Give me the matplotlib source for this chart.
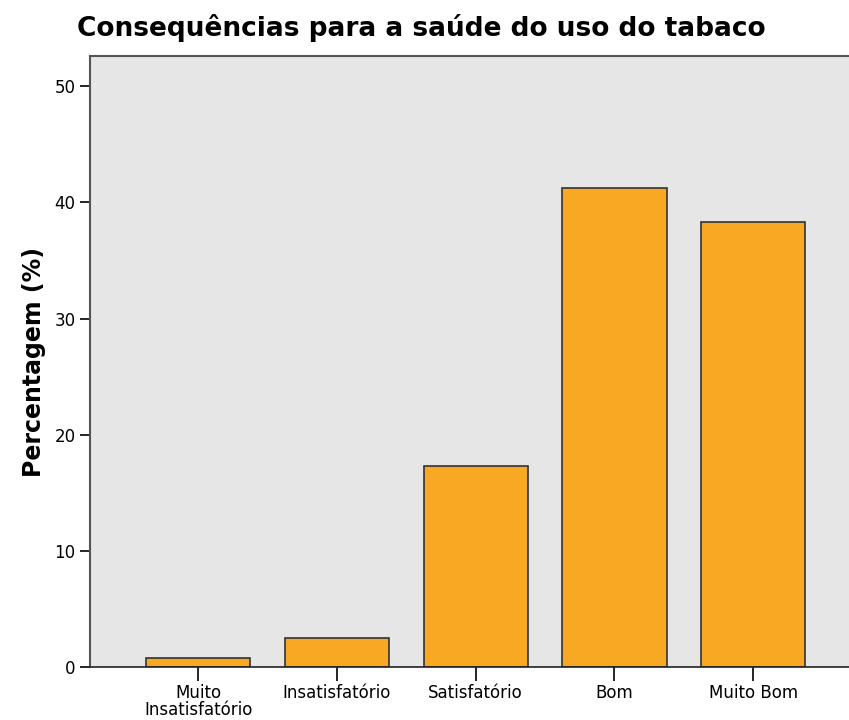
import numpy as np
import matplotlib.pyplot as plt

categorias = ['Muito\nInsatisfatório', 'Insatisfatório', 'Satisfatório', 'Bom', 'Muito Bom']
percentagens = [0.8, 2.5, 17.3, 41.2, 38.3]
yticks = [0, 10, 20, 30, 40, 50]


def main():
    fig = plt.figure(figsize=(8.49, 7.2), dpi=100)
    ax = fig.add_axes([0.106, 0.0736, 0.894, 0.8486])
    ax.set_facecolor('#e6e6e6')
    x = np.arange(len(categorias))
    ax.bar(x, percentagens, width=0.75, color='#f8a823', edgecolor='#333333', linewidth=1.2, zorder=2)
    ax.set_xlim(-0.78, 4.69)
    ax.set_ylim(0, 52.6)
    ax.set_xticks(x)
    ax.set_xticklabels(categorias, fontsize=12, linespacing=0.95)
    ax.set_yticks(yticks)
    ax.tick_params(axis='y', labelsize=12, length=7, width=1.2)
    ax.tick_params(axis='x', length=10, width=1.2, pad=2)
    ax.set_ylabel('Percentagem (%)', fontsize=17, fontweight='bold', labelpad=6)
    for s in ['left', 'top']:
        ax.spines[s].set_color('#555555')
        ax.spines[s].set_linewidth(1.5)
    ax.spines['right'].set_visible(False)
    ax.spines['bottom'].set_color('#222222')
    ax.spines['bottom'].set_linewidth(1.2)
    fig.text(0.091, 0.961, 'Consequências para a saúde do uso do tabaco', fontsize=19, fontweight='bold', va='center')
    fig.savefig('out.png', dpi=100)


if __name__ == '__main__':
    main()
